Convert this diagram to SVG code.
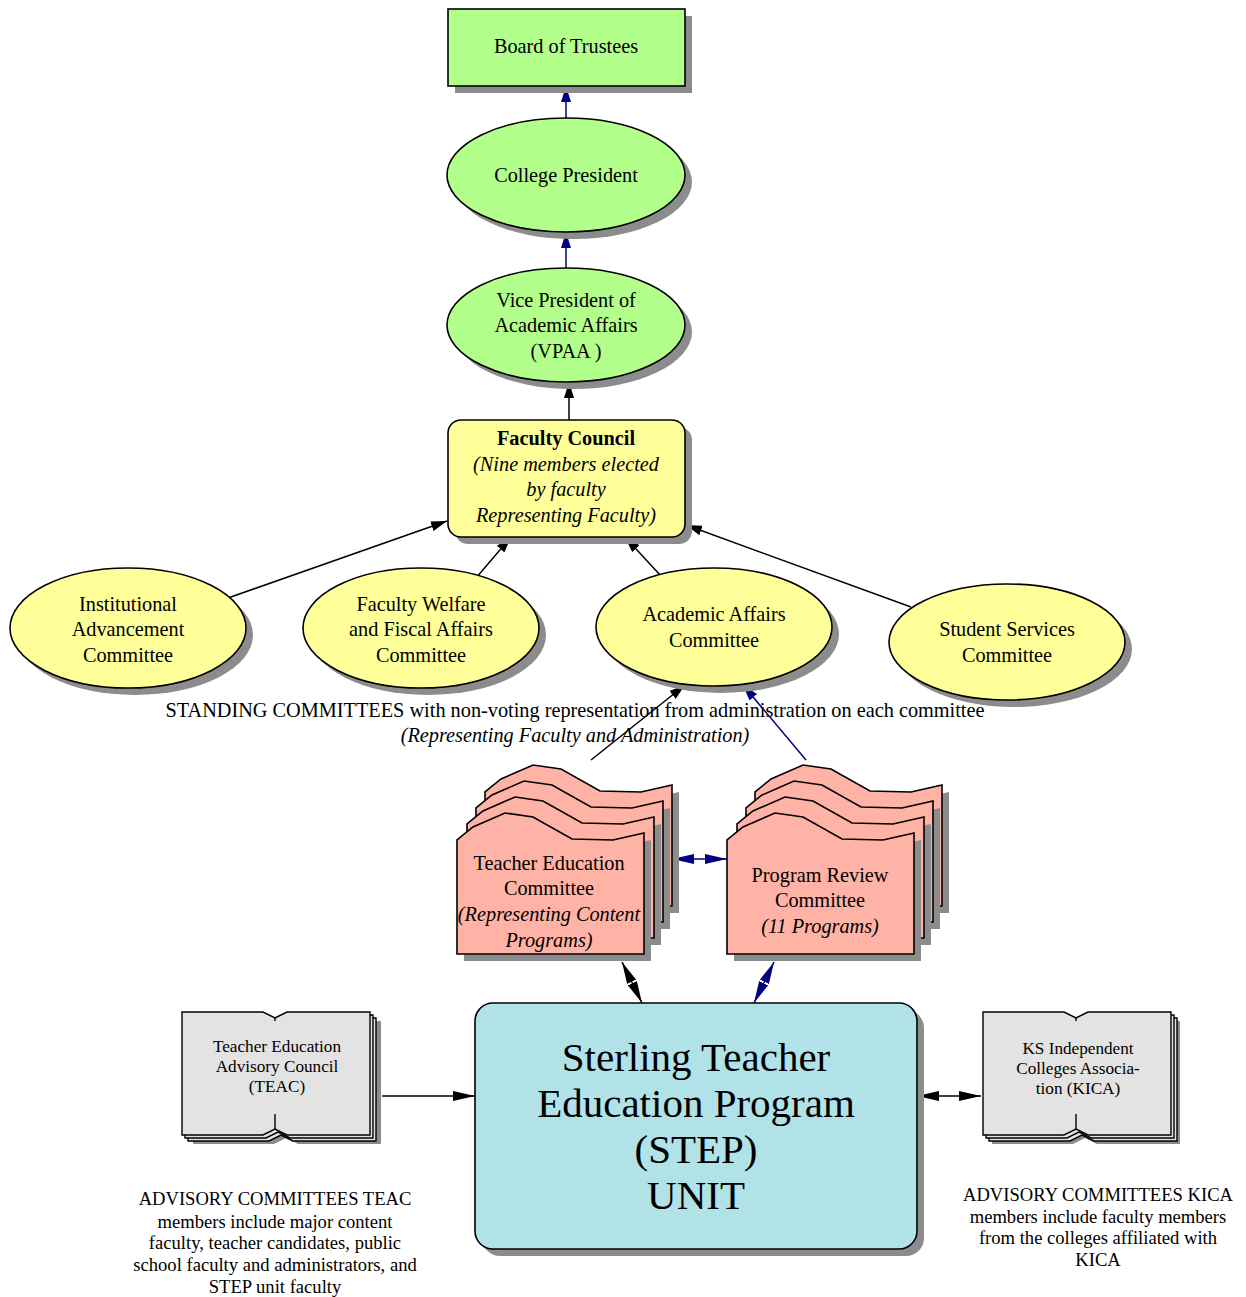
<svg xmlns="http://www.w3.org/2000/svg" width="1246" height="1297" viewBox="0 0 1246 1297">
<style>
text{font-family:"Liberation Serif","Times New Roman",serif;fill:#000;text-anchor:middle}
.t18{font-size:20.3px}
.t15{font-size:17.2px}
.t17{font-size:18.6px}
.big{font-size:41px}
.it{font-style:italic}
.b{font-weight:bold}
.sh{fill:#8c8c8c;stroke:none}
.green{fill:#b3ff8c;stroke:#000;stroke-width:1.6}
.yellow{fill:#ffff99;stroke:#000;stroke-width:1.6}
.salmon{fill:#ffb3a6;stroke:#000;stroke-width:1.6}
.gray{fill:#e3e3e3;stroke:#000;stroke-width:1.4}
.blue{fill:#b0e2e8;stroke:#000;stroke-width:1.6}
.e{fill:none;stroke:#000;stroke-width:1.5}
.n{fill:none;stroke:#000080;stroke-width:1.5}
</style>
<defs>
<marker id="ak" viewBox="0 0 16 10" refX="16" refY="5" markerWidth="16" markerHeight="10" orient="auto-start-reverse" markerUnits="userSpaceOnUse"><path d="M0,0 L16,5 L0,10 Z" fill="#000"/></marker>
<marker id="an" viewBox="0 0 16 10" refX="16" refY="5" markerWidth="16" markerHeight="10" orient="auto-start-reverse" markerUnits="userSpaceOnUse"><path d="M0,0 L16,5 L0,10 Z" fill="#000080"/></marker>
<marker id="akl" viewBox="0 0 22 10" refX="22" refY="5" markerWidth="22" markerHeight="10" orient="auto-start-reverse" markerUnits="userSpaceOnUse"><path d="M0,0 L22,5 L0,10 Z" fill="#000"/></marker>
<marker id="anl" viewBox="0 0 22 10" refX="22" refY="5" markerWidth="22" markerHeight="10" orient="auto-start-reverse" markerUnits="userSpaceOnUse"><path d="M0,0 L22,5 L0,10 Z" fill="#000080"/></marker>
<path id="folder" d="M457,954 L457,840 L473,827 L505,813 L533,817 L572,839 L613,840 L644,833 L644,954 Z"/>
<path id="book" d="M0,0 L81,0 L93,6 L105,0 L188,0 L188,123 L105,123 L93,117 L81,123 L0,123 Z"/>
</defs>

<g id="connectors">
<line class="n" x1="566" y1="118" x2="566" y2="86" marker-end="url(#an)"/>
<line class="n" x1="566" y1="268" x2="566" y2="232" marker-end="url(#an)"/>
<line class="e" x1="569" y1="420" x2="569" y2="382" marker-end="url(#ak)"/>
<line class="e" x1="228" y1="598" x2="447" y2="521" marker-end="url(#ak)"/>
<line class="e" x1="476" y1="578" x2="511" y2="537" marker-end="url(#ak)"/>
<line class="e" x1="661" y1="576" x2="625" y2="537" marker-end="url(#ak)"/>
<line class="e" x1="911" y1="607" x2="686" y2="525" marker-end="url(#ak)"/>
<line class="e" x1="591" y1="760" x2="685" y2="685" marker-end="url(#ak)"/>
<line class="n" x1="806" y1="760" x2="743" y2="685" marker-end="url(#an)"/>
<line class="n" x1="672" y1="859" x2="727" y2="859" marker-start="url(#anl)" marker-end="url(#anl)"/>
<line class="e" x1="622" y1="962" x2="642" y2="1003" marker-start="url(#akl)" marker-end="url(#akl)"/>
<line class="n" x1="774" y1="962" x2="754" y2="1003" marker-start="url(#anl)" marker-end="url(#anl)"/>
<line class="e" x1="382" y1="1096" x2="475" y2="1096" marker-end="url(#akl)"/>
<line class="e" x1="917" y1="1096" x2="981" y2="1096" marker-start="url(#akl)" marker-end="url(#akl)"/>
</g>

<g id="board">
<rect class="sh" x="455" y="16" width="237" height="77"/>
<rect class="green" x="448" y="9" width="237" height="77"/>
<text class="t18" x="566" y="53">Board of Trustees</text>
</g>

<g id="president">
<ellipse class="sh" cx="573" cy="182" rx="119" ry="57"/>
<ellipse class="green" cx="566" cy="175" rx="119" ry="57"/>
<text class="t18" x="566" y="182">College President</text>
</g>

<g id="vpaa">
<ellipse class="sh" cx="573" cy="332" rx="119" ry="57"/>
<ellipse class="green" cx="566" cy="325" rx="119" ry="57"/>
<text class="t18" x="566" y="307">Vice President of</text>
<text class="t18" x="566" y="332">Academic Affairs</text>
<text class="t18" x="566" y="358">(VPAA )</text>
</g>

<g id="faculty-council">
<rect class="sh" x="455" y="427" width="237" height="117" rx="13"/>
<rect class="yellow" x="448" y="420" width="237" height="117" rx="13"/>
<text class="t18 b" x="566" y="445">Faculty Council</text>
<text class="t18 it" x="566" y="471">(Nine members elected</text>
<text class="t18 it" x="566" y="496">by faculty</text>
<text class="t18 it" x="566" y="522">Representing Faculty)</text>
</g>

<g id="institutional">
<ellipse class="sh" cx="135" cy="635" rx="118" ry="60"/>
<ellipse class="yellow" cx="128" cy="628" rx="118" ry="60"/>
<text class="t18" x="128" y="611">Institutional</text>
<text class="t18" x="128" y="636">Advancement</text>
<text class="t18" x="128" y="662">Committee</text>
</g>

<g id="faculty-welfare">
<ellipse class="sh" cx="428" cy="635" rx="118" ry="60"/>
<ellipse class="yellow" cx="421" cy="628" rx="118" ry="60"/>
<text class="t18" x="421" y="611">Faculty Welfare</text>
<text class="t18" x="421" y="636">and Fiscal Affairs</text>
<text class="t18" x="421" y="662">Committee</text>
</g>

<g id="academic-affairs">
<ellipse class="sh" cx="721" cy="634" rx="118" ry="59"/>
<ellipse class="yellow" cx="714" cy="627" rx="118" ry="59"/>
<text class="t18" x="714" y="621">Academic Affairs</text>
<text class="t18" x="714" y="647">Committee</text>
</g>

<g id="student-services">
<ellipse class="sh" cx="1014" cy="649" rx="118" ry="58"/>
<ellipse class="yellow" cx="1007" cy="642" rx="118" ry="58"/>
<text class="t18" x="1007" y="636">Student Services</text>
<text class="t18" x="1007" y="662">Committee</text>
</g>

<g id="standing-label">
<text class="t18" x="575" y="717">STANDING COMMITTEES with non-voting representation from administration on each committee</text>
<text class="t18 it" x="575" y="742">(Representing Faculty and Administration)</text>
</g>

<g id="teacher-education-committee">
<use href="#folder" class="sh" transform="translate(35,-41)"/>
<use href="#folder" class="salmon" transform="translate(28,-48)"/>
<use href="#folder" class="sh" transform="translate(26,-25)"/>
<use href="#folder" class="salmon" transform="translate(19,-32)"/>
<use href="#folder" class="sh" transform="translate(17,-9)"/>
<use href="#folder" class="salmon" transform="translate(10,-16)"/>
<use href="#folder" class="sh" transform="translate(7,7)"/>
<use href="#folder" class="salmon"/>
<text class="t18" x="549" y="870">Teacher Education</text>
<text class="t18" x="549" y="895">Committee</text>
<text class="t18 it" x="549" y="921">(Representing Content</text>
<text class="t18 it" x="549" y="947">Programs)</text>
</g>

<g id="program-review-committee">
<use href="#folder" class="sh" transform="translate(305,-41)"/>
<use href="#folder" class="salmon" transform="translate(298,-48)"/>
<use href="#folder" class="sh" transform="translate(296,-25)"/>
<use href="#folder" class="salmon" transform="translate(289,-32)"/>
<use href="#folder" class="sh" transform="translate(287,-9)"/>
<use href="#folder" class="salmon" transform="translate(280,-16)"/>
<use href="#folder" class="sh" transform="translate(277,7)"/>
<use href="#folder" class="salmon" transform="translate(270,0)"/>
<text class="t18" x="820" y="882">Program Review</text>
<text class="t18" x="820" y="907">Committee</text>
<text class="t18 it" x="820" y="933">(11 Programs)</text>
</g>

<g id="step-unit">
<rect class="sh" x="482" y="1010" width="442" height="246" rx="18"/>
<rect class="blue" x="475" y="1003" width="442" height="246" rx="18"/>
<text class="big" x="696" y="1071">Sterling Teacher</text>
<text class="big" x="696" y="1117">Education Program</text>
<text class="big" x="696" y="1163">(STEP)</text>
<text class="big" x="696" y="1209">UNIT</text>
</g>

<g id="teac">
<use href="#book" class="sh" transform="translate(193,1021)"/>
<use href="#book" class="gray" transform="translate(188,1018)"/>
<use href="#book" class="gray" transform="translate(185,1015)"/>
<use href="#book" class="gray" transform="translate(182,1012)"/>
<line x1="275" y1="1018" x2="275" y2="1021" stroke="#000" stroke-width="1.4"/>
<line x1="275" y1="1114" x2="275" y2="1129" stroke="#000" stroke-width="1.4"/>
<text class="t15" x="277" y="1052">Teacher Education</text>
<text class="t15" x="277" y="1072">Advisory Council</text>
<text class="t15" x="277" y="1092">(TEAC)</text>
</g>

<g id="kica">
<use href="#book" class="sh" transform="translate(992,1021)"/>
<use href="#book" class="gray" transform="translate(989,1018)"/>
<use href="#book" class="gray" transform="translate(986,1015)"/>
<use href="#book" class="gray" transform="translate(983,1012)"/>
<line x1="1076" y1="1018" x2="1076" y2="1021" stroke="#000" stroke-width="1.4"/>
<line x1="1076" y1="1114" x2="1076" y2="1129" stroke="#000" stroke-width="1.4"/>
<text class="t15" x="1078" y="1054">KS Independent</text>
<text class="t15" x="1078" y="1074">Colleges Associa-</text>
<text class="t15" x="1078" y="1094">tion (KICA)</text>
</g>

<g id="teac-note">
<text class="t17" x="275" y="1205">ADVISORY COMMITTEES TEAC</text>
<text class="t17" x="275" y="1228">members include major content</text>
<text class="t17" x="275" y="1249">faculty, teacher candidates, public</text>
<text class="t17" x="275" y="1271">school faculty and administrators, and</text>
<text class="t17" x="275" y="1293">STEP unit faculty</text>
</g>

<g id="kica-note">
<text class="t17" x="1098" y="1201">ADVISORY COMMITTEES KICA</text>
<text class="t17" x="1098" y="1223">members include faculty members</text>
<text class="t17" x="1098" y="1244">from the colleges affiliated with</text>
<text class="t17" x="1098" y="1266">KICA</text>
</g>
</svg>
